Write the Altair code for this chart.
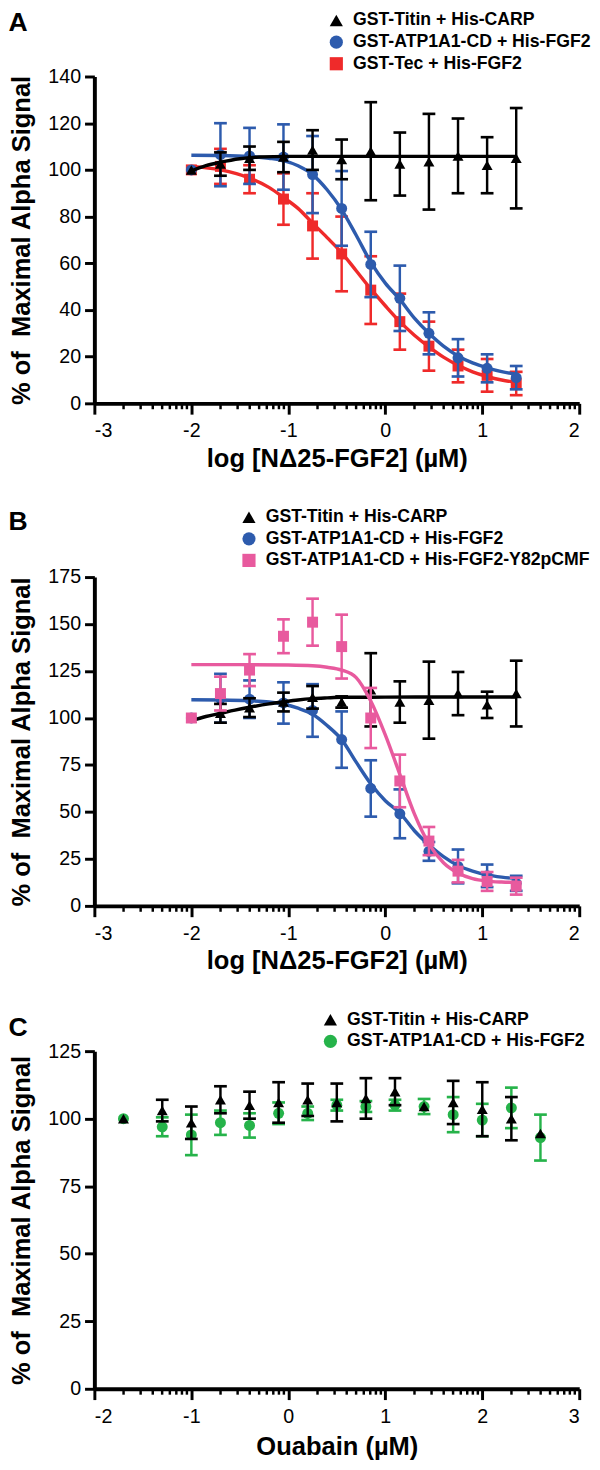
import math
import altair as alt
import pandas as pd

FONT = "Liberation Sans"

# ---------------- series names / colours ----------------
S_TITIN = "GST-Titin + His-CARP"
S_ATP = "GST-ATP1A1-CD + His-FGF2"
S_TEC = "GST-Tec + His-FGF2"
S_PCMF = "GST-ATP1A1-CD + His-FGF2-Y82pCMF"

BLACK = "#000000"
BLUE = "#2D5BAD"
RED = "#EF2A2A"
PINK = "#E85A9E"
GREEN = "#26B34A"

Y_TITLE = "% of\u00a0 Maximal Alpha Signal"
X_TITLE_AB = "log [N\u039425-FGF2] (\u00b5M)"
X_TITLE_C = "Ouabain (\u00b5M)"

# ---------------- Panel A ----------------
a_x = [-2.0, -1.7, -1.4, -1.05, -0.75, -0.45, -0.15, 0.15, 0.45, 0.75, 1.05, 1.35]
a_titin = [100, 102.5, 105, 105.5, 108.5, 104.5, 108, 102.5, 103.5, 106, 102, 105]
a_titin_err = [0, 5, 5, 6.5, 8.5, 8.5, 21, 13.5, 20.5, 16, 12, 21.5]
a_atp = [100, 106.5, 106, 105.5, 98, 83.5, 59.5, 45, 30, 19.5, 15, 11]
a_atp_err = [0, 13.5, 12, 14, 16.5, 16, 14, 14, 9, 8, 6, 5]
a_tec = [100, 101.5, 96, 87.5, 76, 64, 48.5, 35, 24.5, 16, 12, 8.5]
a_tec_err = [0, 7.5, 6, 11, 14, 16, 14.5, 12, 10.5, 7, 7, 5]

a_titin_fit_x = [-2.0, -1.85, -1.7, -1.5, -1.3, -1.0, -0.5, 0.0, 0.5, 1.0, 1.35]
a_titin_fit_y = [99.5, 101.8, 103.3, 104.8, 105.5, 105.8, 105.8, 105.8, 105.8, 105.8, 105.8]
a_atp_fit_x = [-2.0, -1.7, -1.4, -1.2, -1.05, -0.9, -0.75, -0.6, -0.45, -0.3, -0.15,
               0.0, 0.15, 0.3, 0.45, 0.6, 0.75, 0.9, 1.05, 1.2, 1.35]
a_atp_fit_y = [106.3, 106.2, 105.8, 105.0, 104.0, 101.8, 98.0, 91.5, 83.0, 72.0, 60.5,
               51.5, 44.5, 36.5, 30.0, 24.5, 20.3, 17.3, 15.2, 13.6, 12.5]
a_tec_fit_x = [-2.0, -1.7, -1.4, -1.2, -1.05, -0.9, -0.75, -0.6, -0.45, -0.3, -0.15,
               0.0, 0.15, 0.3, 0.45, 0.6, 0.75, 0.9, 1.05, 1.2, 1.35]
a_tec_fit_y = [101.5, 100.0, 96.5, 92.5, 88.2, 83.5, 77.2, 71.0, 64.5, 56.8, 49.0,
               41.8, 35.0, 29.2, 24.2, 19.8, 16.3, 13.5, 11.5, 10.0, 9.0]

# ---------------- Panel B ----------------
b_x = [-2.0, -1.7, -1.4, -1.05, -0.75, -0.45, -0.15, 0.15, 0.45, 0.75, 1.05, 1.35]
b_titin = [100, 102.5, 105.5, 108.5, 111, 108.5, 115, 108.5, 109.5, 113, 107, 113]
b_titin_err = [0, 5, 5, 5, 6, 3, 19.5, 11, 20.5, 11.5, 7, 17.5]
b_atp = [100, 110.5, 110, 108, 104, 88.5, 62.5, 49, 29, 21, 16, 12]
b_atp_err = [0, 13, 10, 11, 14, 15, 15, 13, 5, 9, 6, 4]
b_pcmf = [100, 113, 125.5, 143.5, 151, 138, 100, 66.5, 34.5, 18.5, 13, 10.5]
b_pcmf_err = [0, 9, 8.5, 9, 12.5, 17, 16, 14, 7.5, 6, 5, 4.5]

b_titin_fit_x = [-2.0, -1.85, -1.7, -1.55, -1.4, -1.2, -1.05, -0.9, -0.75, -0.6, -0.45, 0.0, 0.5, 1.0, 1.35]
b_titin_fit_y = [98.5, 100.8, 102.5, 104.2, 105.7, 107.5, 108.6, 109.6, 110.3, 110.7, 111.0, 111.1, 111.2, 111.2, 111.2]
b_atp_fit_x = [-2.0, -1.7, -1.4, -1.2, -1.05, -0.9, -0.75, -0.6, -0.45, -0.3, -0.15,
               0.0, 0.15, 0.3, 0.45, 0.6, 0.75, 0.9, 1.05, 1.2, 1.35]
b_atp_fit_y = [109.7, 109.6, 109.2, 108.5, 107.3, 105.2, 102.0, 96.0, 88.5, 76.5, 65.0,
               56.0, 49.5, 40.0, 32.5, 26.2, 21.5, 18.5, 16.5, 15.3, 14.5]
b_pcmf_fit_x = [-2.0, -1.5, -1.0, -0.75, -0.6, -0.45, -0.3, -0.15, 0.0, 0.15, 0.3,
                0.45, 0.6, 0.75, 0.9, 1.05, 1.2, 1.35]
b_pcmf_fit_y = [128.4, 128.4, 128.2, 127.8, 127.0, 125.5, 121.5, 109.0, 91.0, 70.0, 49.0,
                33.0, 23.0, 17.5, 14.5, 13.2, 12.7, 12.5]

# ---------------- Panel C ----------------
c_x = [-1.7, -1.3, -1.0, -0.7, -0.4, -0.1, 0.2, 0.5, 0.8, 1.1, 1.4, 1.7, 2.0, 2.3, 2.6]
c_titin = [100, 103, 98.5, 107, 105, 106, 107, 106, 107.5, 110, 104.5, 106, 103.5, 100, 94.5]
c_titin_err = [0, 4, 6, 5, 5, 7.5, 6, 7, 7.5, 5, 0, 8, 10, 8, 0]
c_atp = [100, 97, 94, 98.5, 97.5, 102, 102, 105, 104.5, 105, 104.5, 101.5, 99.5, 104, 93]
c_atp_err = [0, 3.5, 7.5, 4.5, 4.5, 4, 2.5, 2, 2, 2, 2.8, 6.5, 6, 7.5, 8.5]


def minor_positions(lo, hi):
    out = []
    for d in range(lo, hi):
        for k in range(2, 10):
            out.append(d + math.log10(k))
    return out


def build_panel(letter, series, draw_order, xdom, ydom, ystep, height, lx, ly, xtitle,
                title_dy, xtitle_pad):
    width = 494
    names = [s["name"] for s in series]
    color_scale = alt.Scale(domain=names, range=[s["color"] for s in series])
    shape_scale = alt.Scale(domain=names, range=[s["shape"] for s in series])
    xscale = alt.Scale(domain=xdom, nice=False, zero=False)
    yscale = alt.Scale(domain=ydom, nice=False, zero=False)
    legend = alt.Legend(
        title=None, orient="none", legendX=lx, legendY=ly,
        labelFont=FONT, labelFontSize=18, labelFontWeight="bold", labelColor="black",
        labelLimit=500, labelOffset=8, symbolSize=180, symbolStrokeWidth=0,
        rowPadding=4, padding=0, symbolOpacity=1,
    )
    xaxis = alt.Axis(
        values=list(range(xdom[0], xdom[1] + 1)), title=xtitle, labelExpr="toString(datum.value)",
        tickSize=11, labelPadding=7, titlePadding=xtitle_pad, grid=False,
    )
    yaxis = alt.Axis(
        values=list(range(0, ydom[1] + 1, ystep)), title=Y_TITLE,
        tickSize=10, labelPadding=4, titlePadding=14, grid=False,
    )

    layers = []
    minor_df = pd.DataFrame({"pos": minor_positions(xdom[0], xdom[1])})
    layers.append(
        alt.Chart(minor_df).mark_rule(color="black", strokeWidth=2.5).encode(
            x=alt.X("pos:Q", scale=xscale, axis=xaxis),
            y=alt.value(height),
            y2=alt.value(height + 6),
        )
    )
    for name in draw_order:
        s = [q for q in series if q["name"] == name][0]
        df = pd.DataFrame({"x": s["x"], "y": s["y"], "err": s["err"]})
        df["series"] = name
        df["lo"] = df["y"] - df["err"]
        df["hi"] = df["y"] + df["err"]
        eb = df[df["err"] > 0]
        fit = pd.DataFrame({"x": s["fit_x"], "y": s["fit_y"]}) if s.get("fit_x") else None

        layers.append(
            alt.Chart(eb).mark_rule(color=s["color"], strokeWidth=2.5).encode(
                x=alt.X("x:Q", scale=xscale, axis=xaxis),
                y=alt.Y("lo:Q", scale=yscale, axis=yaxis),
                y2="hi:Q",
            )
        )
        for end in ["lo", "hi"]:
            layers.append(
                alt.Chart(eb).mark_tick(color=s["color"], orient="horizontal", size=13, thickness=2.7, opacity=1).encode(
                    x=alt.X("x:Q", scale=xscale, axis=xaxis),
                    y=alt.Y(f"{end}:Q", scale=yscale, axis=yaxis),
                )
            )
        if fit is not None:
            layers.append(
                alt.Chart(fit).mark_line(color=s["color"], strokeWidth=3.5, interpolate="monotone").encode(
                    x=alt.X("x:Q", scale=xscale, axis=xaxis),
                    y=alt.Y("y:Q", scale=yscale, axis=yaxis),
                )
            )
        layers.append(
            alt.Chart(df).mark_point(filled=True, size=125, opacity=1).encode(
                x=alt.X("x:Q", scale=xscale, axis=xaxis),
                y=alt.Y("y:Q", scale=yscale, axis=yaxis),
                color=alt.Color("series:N", scale=color_scale, legend=legend),
                shape=alt.Shape("series:N", scale=shape_scale, legend=legend),
            )
        )

    return alt.layer(*layers).properties(
        width=width,
        height=height,
        title=alt.TitleParams(
            letter, anchor="start", frame="bounds", font=FONT, fontSize=27,
            fontWeight="bold", color="black", dy=title_dy, offset=0,
        ),
    )


series_a = [
    dict(name=S_TITIN, color=BLACK, shape="triangle-up", x=a_x, y=a_titin, err=a_titin_err,
         fit_x=a_titin_fit_x, fit_y=a_titin_fit_y),
    dict(name=S_ATP, color=BLUE, shape="circle", x=a_x, y=a_atp, err=a_atp_err,
         fit_x=a_atp_fit_x, fit_y=a_atp_fit_y),
    dict(name=S_TEC, color=RED, shape="square", x=a_x, y=a_tec, err=a_tec_err,
         fit_x=a_tec_fit_x, fit_y=a_tec_fit_y),
]
series_b = [
    dict(name=S_TITIN, color=BLACK, shape="triangle-up", x=b_x, y=b_titin, err=b_titin_err,
         fit_x=b_titin_fit_x, fit_y=b_titin_fit_y),
    dict(name=S_ATP, color=BLUE, shape="circle", x=b_x, y=b_atp, err=b_atp_err,
         fit_x=b_atp_fit_x, fit_y=b_atp_fit_y),
    dict(name=S_PCMF, color=PINK, shape="square", x=b_x, y=b_pcmf, err=b_pcmf_err,
         fit_x=b_pcmf_fit_x, fit_y=b_pcmf_fit_y),
]
series_c = [
    dict(name=S_TITIN, color=BLACK, shape="triangle-up", x=c_x, y=c_titin, err=c_titin_err),
    dict(name=S_ATP, color=GREEN, shape="circle", x=c_x, y=c_atp, err=c_atp_err),
]

panel_a = build_panel("A", series_a, [S_TEC, S_ATP, S_TITIN], [-3, 2], [0, 140], 20, 333,
                      237.5, -66, X_TITLE_AB, 26, 5)
panel_b = build_panel("B", series_b, [S_ATP, S_TITIN, S_PCMF], [-3, 2], [0, 175], 25, 335,
                      148.5, -70, X_TITLE_AB, 28, 5)
panel_c = build_panel("C", series_c, [S_ATP, S_TITIN], [-2, 3], [0, 125], 25, 344,
                      231.5, -41, X_TITLE_C, 32, 8)

chart = alt.vconcat(panel_a, panel_b, panel_c, spacing=38).resolve_scale(
    color="independent", shape="independent"
).resolve_legend(
    color="independent", shape="independent"
).properties(
    padding={"left": 0, "top": -12, "right": 0, "bottom": 0}
).configure_view(stroke=None).configure_axis(
    domainColor="black", domainWidth=4, tickColor="black", tickWidth=3,
    labelFont=FONT, titleFont=FONT, labelFontSize=20, titleFontSize=26,
    titleFontWeight="bold", labelColor="black", titleColor="black",
)

chart.save("out.html", embed_options={"renderer": "svg", "actions": False})
